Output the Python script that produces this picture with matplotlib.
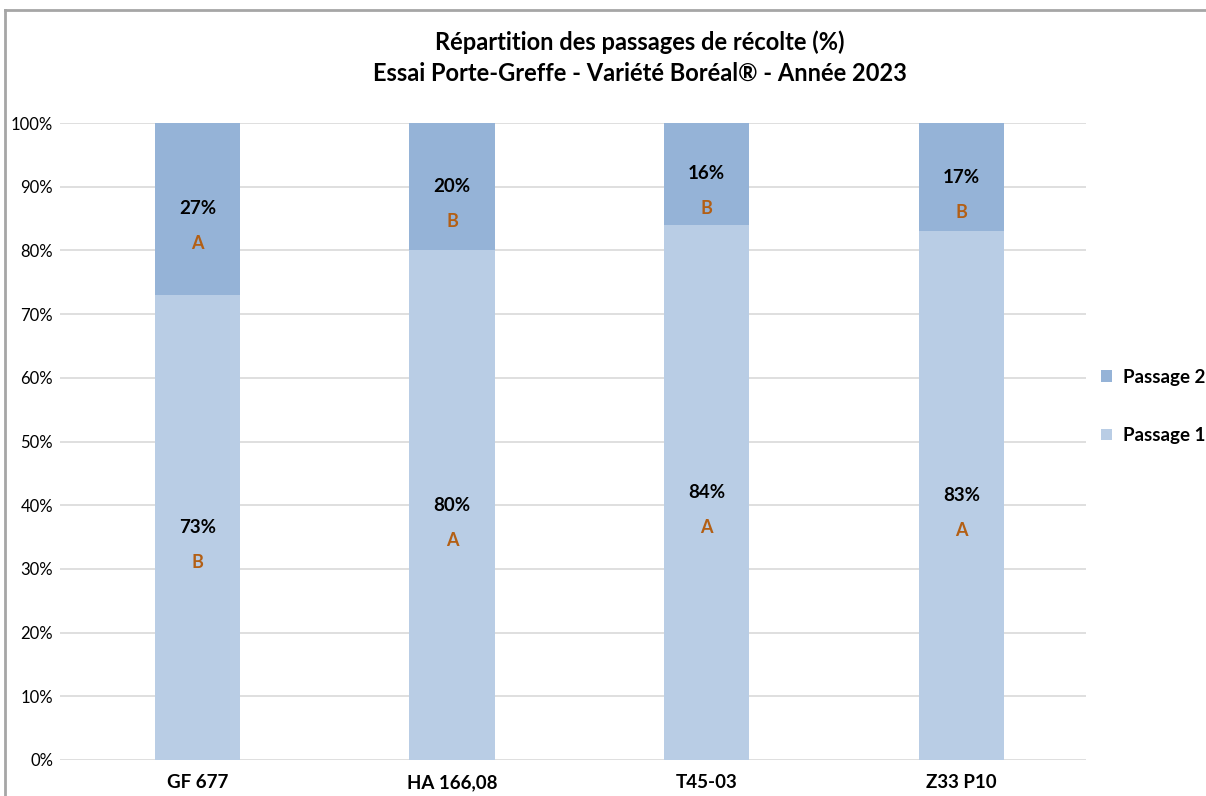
import matplotlib.pyplot as plt
from matplotlib.lines import Line2D
import numpy as np

plt.rcParams['font.family'] = ['Lato', 'DejaVu Sans']

categories = ['GF 677', 'HA 166,08', 'T45-03', 'Z33 P10']
passage1 = [73, 80, 84, 83]
passage2 = [27, 20, 16, 17]
letters1 = ['B', 'A', 'A', 'A']
letters2 = ['A', 'B', 'B', 'B']

col1 = '#B9CDE5'
col2 = '#95B3D7'
letter_col = '#B35F14'

fig = plt.figure(figsize=(12.06, 7.96), dpi=100)
ax = fig.add_axes([60 / 1206, 1 - 760 / 796, (1086 - 60) / 1206, (760 - 123) / 796])

x = np.arange(len(categories))
w = 0.335
b1 = ax.bar(x, passage1, w, color=col1, label='Passage 1', zorder=2)
b2 = ax.bar(x, passage2, w, bottom=passage1, color=col2, label='Passage 2', zorder=2)

# value labels with the significance letter underneath
for i in range(len(categories)):
    m1 = passage1[i] / 2
    m2 = passage1[i] + passage2[i] / 2
    ax.text(x[i], m1, '%d%%' % passage1[i], ha='center', va='center',
            fontsize=13.5, fontweight='bold', color='black', zorder=3)
    ax.text(x[i], m2, '%d%%' % passage2[i], ha='center', va='center',
            fontsize=13.5, fontweight='bold', color='black', zorder=3)
    ax.annotate(letters1[i], (x[i], m1), xytext=(0, -35), textcoords='offset pixels',
                ha='center', va='center', fontsize=13, fontweight='bold', color=letter_col)
    ax.annotate(letters2[i], (x[i], m2), xytext=(0, -35), textcoords='offset pixels',
                ha='center', va='center', fontsize=13, fontweight='bold', color=letter_col)

ax.set_ylim(0, 100)
ax.set_xlim(-0.54, 3.49)
ax.set_yticks(range(0, 101, 10))
ax.set_yticklabels(['%d%%' % v for v in range(0, 101, 10)], fontsize=12)
ax.set_xticks(x)
ax.set_xticklabels(categories, fontsize=13.5, fontweight='bold')
ax.tick_params(axis='both', length=0)
ax.tick_params(axis='x', pad=10)
ax.tick_params(axis='y', pad=5)
ax.grid(axis='y', color='#D9D9D9', linewidth=1.2, zorder=0)
for s in ax.spines.values():
    s.set_visible(False)

fig.text(640 / 1206, 1 - 42 / 796, 'Répartition des passages de récolte (%)',
         ha='center', va='center', fontsize=17, fontweight='bold')
fig.text(640 / 1206, 1 - 73 / 796, 'Essai Porte-Greffe - Variété Boréal® - Année 2023',
         ha='center', va='center', fontsize=17, fontweight='bold')

fig.legend(handles=[b2, b1], labels=['Passage 2', 'Passage 1'],
           loc='upper left', bbox_to_anchor=(1084 / 1206, 1 - 352 / 796),
           frameon=False, prop={'weight': 'bold', 'size': 13.5},
           handlelength=0.6, handleheight=0.6, handletextpad=0.6, labelspacing=2.2)

# chart frame on the left and top
fig.add_artist(Line2D([5 / 1206, 5 / 1206], [0, 1 - 10 / 796], color='#A6A6A6', linewidth=2))
fig.add_artist(Line2D([5 / 1206, 1], [1 - 10 / 796, 1 - 10 / 796], color='#A6A6A6', linewidth=2))

fig.savefig('out.png', dpi=100)
